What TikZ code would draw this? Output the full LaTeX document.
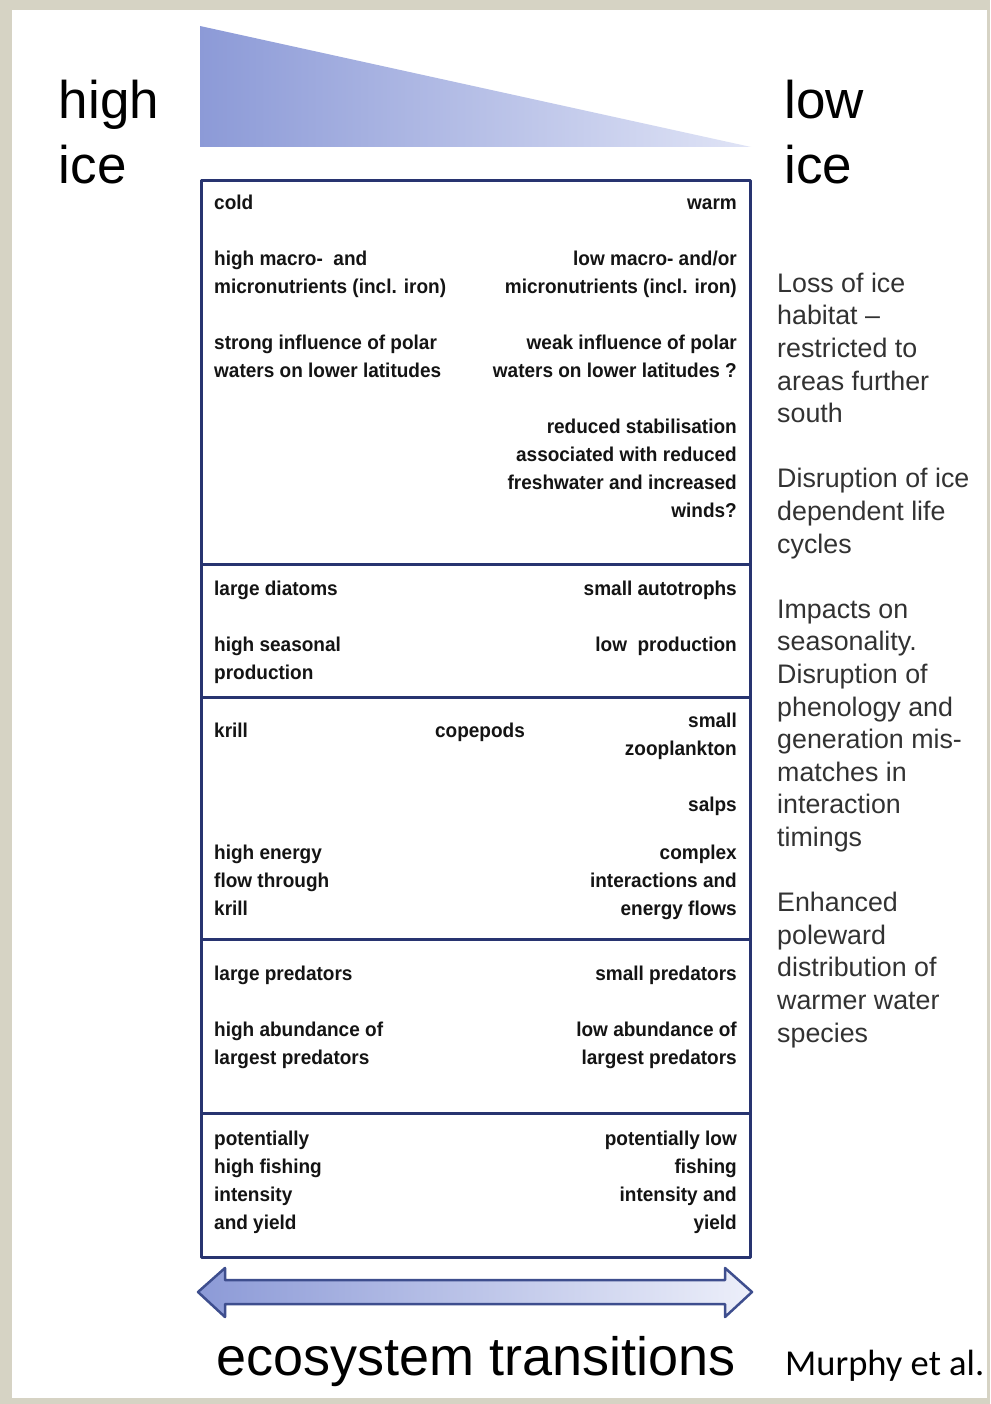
\documentclass[tikz,border=0pt]{standalone}
\usepackage{fontspec}
\setmainfont{Liberation Sans}
\newfontfamily\boxfont[FakeStretch=0.95]{Liberation Sans}
\newfontfamily\notefont{Carlito}

\definecolor{framebg}{RGB}{214,211,196}
\definecolor{boxline}{RGB}{40,52,112}
\definecolor{arrowline}{RGB}{62,78,142}
\definecolor{icedark}{RGB}{140,154,215}
\definecolor{icelight}{RGB}{224,228,246}
\definecolor{sidetext}{RGB}{50,50,50}
\definecolor{boxtext}{RGB}{20,20,20}

\begin{document}
\begin{tikzpicture}[
    x=1pt,
    y=-1pt,
    line join=round,
    boxedge/.style={
        draw=boxline,
        line width=3pt
    },
    lefttxt/.style={
        anchor=north west,
        align=left,
        inner sep=0pt,
        text=boxtext,
        font=\boxfont\bfseries\fontsize{20}{28}\selectfont
    },
    righttxt/.style={
        lefttxt,
        anchor=north east,
        align=right
    },
    sidetxt/.style={
        anchor=north west,
        align=left,
        inner sep=0pt,
        text=sidetext,
        font=\fontsize{26.8}{32.6}\selectfont
    },
    bigtxt/.style={
        anchor=north west,
        align=left,
        inner sep=0pt,
        font=\fontsize{53}{65}\selectfont
    }
]

\useasboundingbox (0,0) rectangle (990,1404);

% =================================================
% Frame
% =================================================

\fill[framebg] (0,0) rectangle (990,1404);
\fill[white] (12,10) rectangle (987,1398);

% =================================================
% Ice wedge
% =================================================

\coordinate (T1) at (200,26);
\coordinate (T2) at (200,147);
\coordinate (T3) at (751,147);

\shade[left color=icedark, right color=icelight]
    (T1)--(T2)--(T3)--cycle;

\node[bigtxt] (highice) at (58.6,72.5) {\strut high\\ice};
\node[bigtxt] (lowice) at (784.5,72.5) {\strut low\\ice};

% =================================================
% Table of contrasts
% =================================================

% Corners
\coordinate (A) at (201,181);
\coordinate (B) at (750,181);
\coordinate (C) at (750,1257);
\coordinate (D) at (201,1257);

% Dividers
\foreach \yy in {564,697,939,1113}
    \draw[boxedge] (201,\yy)--(750,\yy);

\draw[boxedge] (A)--(B)--(C)--(D)--cycle;

% Physics
\node[lefttxt] (cold) at (214,189.4)
    {\strut cold\\[28pt]
     high macro-\ \ and\\
     micronutrients (incl. iron)\\[28pt]
     strong influence of polar\\
     waters on lower latitudes};
\node[righttxt] (warm) at (737,189.4)
    {\strut warm\\[28pt]
     low macro- and/or\\
     micronutrients (incl. iron)\\[28pt]
     weak influence of polar\\
     waters on lower latitudes ?\\[28pt]
     reduced stabilisation\\
     associated with reduced\\
     freshwater and increased\\
     winds?};

% Primary production
\node[lefttxt] (diatoms) at (214,575.4)
    {\strut large diatoms\\[28pt]
     high seasonal\\
     production};
\node[righttxt] (autotrophs) at (737,575.4)
    {\strut small autotrophs\\[28pt]
     low\ \ production};

% Zooplankton
\node[lefttxt] (krill) at (214,717.4) {\strut krill};
\node[lefttxt, anchor=north] (copepods) at (480,717.4) {\strut copepods};
\node[righttxt] (smallzoo) at (737,707.4) {\strut small\\zooplankton};
\node[righttxt] (salps) at (737,791.4) {\strut salps};
\node[lefttxt] (krillflow) at (214,839.4)
    {\strut high energy\\
     flow through\\
     krill};
\node[righttxt] (complexflow) at (737,839.4)
    {\strut complex\\
     interactions and\\
     energy flows};

% Predators
\node[lefttxt] (largepred) at (214,960.4)
    {\strut large predators\\[28pt]
     high abundance of\\
     largest predators};
\node[righttxt] (smallpred) at (737,960.4)
    {\strut small predators\\[28pt]
     low abundance of\\
     largest predators};

% Fishing
\node[lefttxt] (highfish) at (214,1125.4)
    {\strut potentially\\
     high fishing\\
     intensity\\
     and yield};
\node[righttxt] (lowfish) at (737,1125.4)
    {\strut potentially low\\
     fishing\\
     intensity and\\
     yield};

% =================================================
% Impacts
% =================================================

\node[sidetxt] (impacts) at (777,269.2)
    {\strut Loss of ice\\
     habitat –\\
     restricted to\\
     areas further\\
     south\\[32.6pt]
     Disruption of ice\\
     dependent life\\
     cycles\\[32.6pt]
     Impacts on\\
     seasonality.\\
     Disruption of\\
     phenology and\\
     generation mis-\\
     matches in\\
     interaction\\
     timings\\[32.6pt]
     Enhanced\\
     poleward\\
     distribution of\\
     warmer water\\
     species};

% =================================================
% Transition arrow
% =================================================

\coordinate (L0) at (198,1292);
\coordinate (L1) at (225,1268);
\coordinate (L2) at (225,1280);
\coordinate (R2) at (725,1280);
\coordinate (R1) at (725,1268);
\coordinate (R0) at (752,1292);
\coordinate (R3) at (725,1317);
\coordinate (R4) at (725,1304);
\coordinate (L4) at (225,1304);
\coordinate (L3) at (225,1317);

\shadedraw[left color=icedark, right color=icelight!60!white,
    draw=arrowline, line width=2.5pt]
    (L0)--(L1)--(L2)--(R2)--(R1)--(R0)--(R3)--(R4)--(L4)--(L3)--cycle;

\node[anchor=base, inner sep=0pt, font=\fontsize{54}{60}\selectfont]
    (transitions) at (476,1375) {ecosystem transitions};
\node[anchor=base west, inner sep=0pt, font=\notefont\fontsize{36.5}{40}\selectfont]
    (source) at (785,1375) {Murphy et al.};

\end{tikzpicture}
\end{document}
